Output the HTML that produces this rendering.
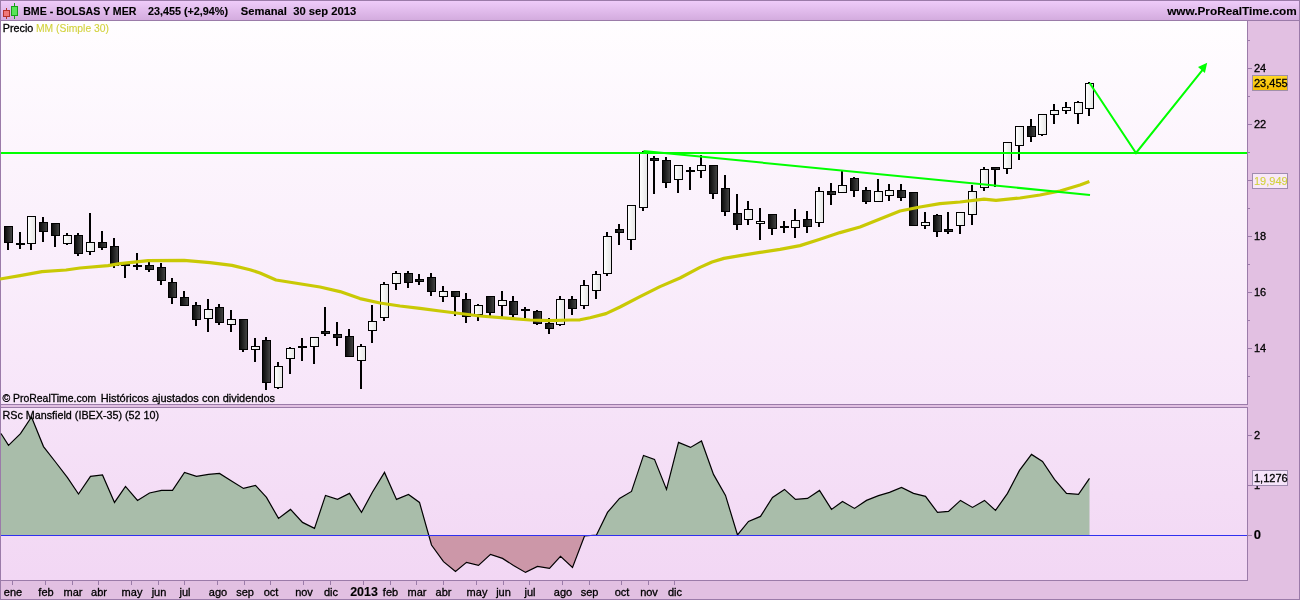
<!DOCTYPE html>
<html><head><meta charset="utf-8"><title>BME - BOLSAS Y MER</title>
<style>
html,body{margin:0;padding:0;background:#e2c0e2;}
body{width:1300px;height:600px;overflow:hidden;}
svg{display:block}
text{font-family:"Liberation Sans",Arial,sans-serif;font-size:11px;fill:#000;stroke:#000;stroke-width:.3px}
.b{font-weight:bold;stroke-width:.12px}
</style></head><body>
<svg width="1300" height="600" viewBox="0 0 1300 600">
<defs>
<linearGradient id="gh" x1="0" y1="0" x2="0" y2="1"><stop offset="0" stop-color="#f0cdfb"/><stop offset="1" stop-color="#d2aadd"/></linearGradient>
<linearGradient id="gm" x1="0" y1="0" x2="0" y2="1"><stop offset="0" stop-color="#fffdff"/><stop offset="1" stop-color="#f7e5f9"/></linearGradient>
<linearGradient id="gi" x1="0" y1="0" x2="0" y2="1"><stop offset="0" stop-color="#f6e3f8"/><stop offset="1" stop-color="#f2d7f4"/></linearGradient>
<linearGradient id="gb" x1="0" y1="0" x2="1" y2="0"><stop offset="0" stop-color="#0c0c0c"/><stop offset="1" stop-color="#424242"/></linearGradient>
<linearGradient id="gw" x1="0" y1="0" x2="1" y2="0"><stop offset="0" stop-color="#fff"/><stop offset="1" stop-color="#e6e6e6"/></linearGradient>
</defs>

<rect x="0" y="0" width="1300" height="600" fill="#e2c0e2"/>
<rect x="0" y="0" width="1300" height="21" fill="url(#gh)"/>
<rect x="1" y="21" width="1246" height="383" fill="url(#gm)"/>
<rect x="1" y="405" width="1246" height="2" fill="#e2c0e2"/>
<rect x="1" y="408" width="1246" height="172" fill="url(#gi)"/>
<g fill="#9b7ba9">
<rect x="0" y="0" width="1300" height="1"/>
<rect x="0" y="20" width="1300" height="1"/>
<rect x="0" y="0" width="1" height="600"/>
<rect x="1299" y="0" width="1" height="600"/>
<rect x="0" y="599" width="1300" height="1"/>
<rect x="1247" y="21" width="1" height="384"/>
<rect x="1247" y="407" width="1" height="174"/>
<rect x="0" y="404" width="1248" height="1"/>
<rect x="0" y="407" width="1248" height="1"/>
<rect x="0" y="580" width="1248" height="1"/>
<rect x="1248" y="40" width="2" height="1"/>
<rect x="1248" y="68" width="4" height="1"/>
<rect x="1248" y="96" width="2" height="1"/>
<rect x="1248" y="124" width="4" height="1"/>
<rect x="1248" y="152" width="2" height="1"/>
<rect x="1248" y="180" width="4" height="1"/>
<rect x="1248" y="208" width="2" height="1"/>
<rect x="1248" y="236" width="4" height="1"/>
<rect x="1248" y="264" width="2" height="1"/>
<rect x="1248" y="292" width="4" height="1"/>
<rect x="1248" y="320" width="2" height="1"/>
<rect x="1248" y="348" width="4" height="1"/>
<rect x="1248" y="376" width="2" height="1"/>
<rect x="1248" y="435" width="4" height="1"/>
<rect x="1248" y="485" width="4" height="1"/>
<rect x="1248" y="535" width="4" height="1"/>
<rect x="12" y="581" width="1" height="4"/>
<rect x="45" y="581" width="1" height="4"/>
<rect x="72" y="581" width="1" height="4"/>
<rect x="98" y="581" width="1" height="4"/>
<rect x="131" y="581" width="1" height="4"/>
<rect x="158" y="581" width="1" height="4"/>
<rect x="184" y="581" width="1" height="4"/>
<rect x="217" y="581" width="1" height="4"/>
<rect x="244" y="581" width="1" height="4"/>
<rect x="270" y="581" width="1" height="4"/>
<rect x="303" y="581" width="1" height="4"/>
<rect x="330" y="581" width="1" height="4"/>
<rect x="363" y="581" width="1" height="4"/>
<rect x="390" y="581" width="1" height="4"/>
<rect x="416" y="581" width="1" height="4"/>
<rect x="443" y="581" width="1" height="4"/>
<rect x="476" y="581" width="1" height="4"/>
<rect x="503" y="581" width="1" height="4"/>
<rect x="529" y="581" width="1" height="4"/>
<rect x="562" y="581" width="1" height="4"/>
<rect x="589" y="581" width="1" height="4"/>
<rect x="621" y="581" width="1" height="4"/>
<rect x="648" y="581" width="1" height="4"/>
<rect x="674" y="581" width="1" height="4"/>
</g>
<g><rect x="6" y="8" width="1" height="11" fill="#b4322a"/><rect x="3.5" y="10.5" width="6" height="6" fill="#f07878" stroke="#b4322a"/>
<rect x="14" y="3" width="1" height="16" fill="#18a018"/><rect x="11.5" y="6.5" width="6" height="9" fill="#58e458" stroke="#18a018"/></g>
<text x="23.2" y="15" class="b" textLength="113.2" lengthAdjust="spacingAndGlyphs">BME - BOLSAS Y MER</text>
<text x="148" y="15" class="b" textLength="80" lengthAdjust="spacingAndGlyphs">23,455 (+2,94%)</text>
<text x="240.8" y="15" class="b" textLength="46" lengthAdjust="spacingAndGlyphs">Semanal</text>
<text x="293.2" y="15" class="b" textLength="63" lengthAdjust="spacingAndGlyphs">30 sep 2013</text>
<text x="1167.2" y="15" class="b" textLength="129.6" lengthAdjust="spacingAndGlyphs" font-size="12">www.ProRealTime.com</text>
<text x="2.8" y="32" textLength="30.5" lengthAdjust="spacingAndGlyphs">Precio</text>
<text x="36" y="32" textLength="73" lengthAdjust="spacingAndGlyphs" style="fill:#d2d23c;stroke:#d2d23c;stroke-width:.1px">MM (Simple 30)</text>
<text x="2.4" y="402" textLength="93.8" lengthAdjust="spacingAndGlyphs">© ProRealTime.com</text>
<text x="100.7" y="402" textLength="174.4" lengthAdjust="spacingAndGlyphs">Históricos ajustados con dividendos</text>
<g shape-rendering="crispEdges">
<rect x="7" y="226" width="2" height="24" fill="#000"/>
<rect x="4" y="226" width="9" height="17" fill="#000"/>
<rect x="5" y="227" width="7" height="15" fill="url(#gb)"/>
<rect x="19" y="232" width="2" height="17" fill="#000"/>
<rect x="16" y="243" width="9" height="2" fill="#000"/>
<rect x="30" y="216" width="2" height="34" fill="#000"/>
<rect x="27" y="216" width="9" height="28" fill="#000"/>
<rect x="28" y="217" width="7" height="26" fill="url(#gw)"/>
<rect x="42" y="217" width="2" height="25" fill="#000"/>
<rect x="39" y="222" width="9" height="10" fill="#000"/>
<rect x="40" y="223" width="7" height="8" fill="url(#gb)"/>
<rect x="54" y="223" width="2" height="24" fill="#000"/>
<rect x="51" y="223" width="9" height="13" fill="#000"/>
<rect x="52" y="224" width="7" height="11" fill="url(#gb)"/>
<rect x="66" y="233" width="2" height="12" fill="#000"/>
<rect x="63" y="235" width="9" height="9" fill="#000"/>
<rect x="64" y="236" width="7" height="7" fill="url(#gw)"/>
<rect x="77" y="233" width="2" height="23" fill="#000"/>
<rect x="74" y="235" width="9" height="19" fill="#000"/>
<rect x="75" y="236" width="7" height="17" fill="url(#gb)"/>
<rect x="89" y="213" width="2" height="42" fill="#000"/>
<rect x="86" y="242" width="9" height="10" fill="#000"/>
<rect x="87" y="243" width="7" height="8" fill="url(#gw)"/>
<rect x="101" y="231" width="2" height="19" fill="#000"/>
<rect x="98" y="242" width="9" height="6" fill="#000"/>
<rect x="99" y="243" width="7" height="4" fill="url(#gb)"/>
<rect x="113" y="238" width="2" height="30" fill="#000"/>
<rect x="110" y="246" width="9" height="20" fill="#000"/>
<rect x="111" y="247" width="7" height="18" fill="url(#gb)"/>
<rect x="124" y="263" width="2" height="15" fill="#000"/>
<rect x="121" y="264" width="9" height="2" fill="#000"/>
<rect x="136" y="253" width="2" height="17" fill="#000"/>
<rect x="133" y="265" width="9" height="2" fill="#000"/>
<rect x="148" y="262" width="2" height="10" fill="#000"/>
<rect x="145" y="265" width="9" height="5" fill="#000"/>
<rect x="146" y="266" width="7" height="3" fill="url(#gb)"/>
<rect x="160" y="263" width="2" height="22" fill="#000"/>
<rect x="157" y="267" width="9" height="14" fill="#000"/>
<rect x="158" y="268" width="7" height="12" fill="url(#gb)"/>
<rect x="171" y="278" width="2" height="26" fill="#000"/>
<rect x="168" y="282" width="9" height="16" fill="#000"/>
<rect x="169" y="283" width="7" height="14" fill="url(#gb)"/>
<rect x="183" y="291" width="2" height="15" fill="#000"/>
<rect x="180" y="297" width="9" height="9" fill="#000"/>
<rect x="181" y="298" width="7" height="7" fill="url(#gb)"/>
<rect x="195" y="302" width="2" height="24" fill="#000"/>
<rect x="192" y="305" width="9" height="15" fill="#000"/>
<rect x="193" y="306" width="7" height="13" fill="url(#gb)"/>
<rect x="207" y="299" width="2" height="33" fill="#000"/>
<rect x="204" y="309" width="9" height="10" fill="#000"/>
<rect x="205" y="310" width="7" height="8" fill="url(#gw)"/>
<rect x="218" y="304" width="2" height="21" fill="#000"/>
<rect x="215" y="307" width="9" height="16" fill="#000"/>
<rect x="216" y="308" width="7" height="14" fill="url(#gb)"/>
<rect x="230" y="310" width="2" height="22" fill="#000"/>
<rect x="227" y="319" width="9" height="6" fill="#000"/>
<rect x="228" y="320" width="7" height="4" fill="url(#gw)"/>
<rect x="242" y="319" width="2" height="33" fill="#000"/>
<rect x="239" y="319" width="9" height="31" fill="#000"/>
<rect x="240" y="320" width="7" height="29" fill="url(#gb)"/>
<rect x="254" y="338" width="2" height="24" fill="#000"/>
<rect x="251" y="346" width="9" height="4" fill="#000"/>
<rect x="252" y="347" width="7" height="2" fill="url(#gw)"/>
<rect x="265" y="337" width="2" height="53" fill="#000"/>
<rect x="262" y="340" width="9" height="43" fill="#000"/>
<rect x="263" y="341" width="7" height="41" fill="url(#gb)"/>
<rect x="277" y="362" width="2" height="27" fill="#000"/>
<rect x="274" y="366" width="9" height="22" fill="#000"/>
<rect x="275" y="367" width="7" height="20" fill="url(#gw)"/>
<rect x="289" y="347" width="2" height="27" fill="#000"/>
<rect x="286" y="348" width="9" height="11" fill="#000"/>
<rect x="287" y="349" width="7" height="9" fill="url(#gw)"/>
<rect x="301" y="338" width="2" height="23" fill="#000"/>
<rect x="298" y="346" width="9" height="2" fill="#000"/>
<rect x="313" y="337" width="2" height="27" fill="#000"/>
<rect x="310" y="337" width="9" height="10" fill="#000"/>
<rect x="311" y="338" width="7" height="8" fill="url(#gw)"/>
<rect x="324" y="307" width="2" height="29" fill="#000"/>
<rect x="321" y="331" width="9" height="3" fill="#000"/>
<rect x="322" y="332" width="7" height="1" fill="url(#gb)"/>
<rect x="336" y="322" width="2" height="24" fill="#000"/>
<rect x="333" y="334" width="9" height="4" fill="#000"/>
<rect x="334" y="335" width="7" height="2" fill="url(#gb)"/>
<rect x="348" y="329" width="2" height="28" fill="#000"/>
<rect x="345" y="336" width="9" height="21" fill="#000"/>
<rect x="346" y="337" width="7" height="19" fill="url(#gb)"/>
<rect x="360" y="344" width="2" height="45" fill="#000"/>
<rect x="357" y="346" width="9" height="15" fill="#000"/>
<rect x="358" y="347" width="7" height="13" fill="url(#gw)"/>
<rect x="371" y="305" width="2" height="38" fill="#000"/>
<rect x="368" y="321" width="9" height="10" fill="#000"/>
<rect x="369" y="322" width="7" height="8" fill="url(#gw)"/>
<rect x="383" y="282" width="2" height="39" fill="#000"/>
<rect x="380" y="284" width="9" height="34" fill="#000"/>
<rect x="381" y="285" width="7" height="32" fill="url(#gw)"/>
<rect x="395" y="271" width="2" height="19" fill="#000"/>
<rect x="392" y="273" width="9" height="11" fill="#000"/>
<rect x="393" y="274" width="7" height="9" fill="url(#gw)"/>
<rect x="407" y="271" width="2" height="17" fill="#000"/>
<rect x="404" y="273" width="9" height="10" fill="#000"/>
<rect x="405" y="274" width="7" height="8" fill="url(#gb)"/>
<rect x="418" y="274" width="2" height="11" fill="#000"/>
<rect x="415" y="279" width="9" height="3" fill="#000"/>
<rect x="416" y="280" width="7" height="1" fill="url(#gb)"/>
<rect x="430" y="273" width="2" height="23" fill="#000"/>
<rect x="427" y="277" width="9" height="15" fill="#000"/>
<rect x="428" y="278" width="7" height="13" fill="url(#gb)"/>
<rect x="442" y="286" width="2" height="16" fill="#000"/>
<rect x="439" y="291" width="9" height="6" fill="#000"/>
<rect x="440" y="292" width="7" height="4" fill="url(#gw)"/>
<rect x="454" y="291" width="2" height="25" fill="#000"/>
<rect x="451" y="291" width="9" height="6" fill="#000"/>
<rect x="452" y="292" width="7" height="4" fill="url(#gb)"/>
<rect x="465" y="293" width="2" height="30" fill="#000"/>
<rect x="462" y="299" width="9" height="18" fill="#000"/>
<rect x="463" y="300" width="7" height="16" fill="url(#gb)"/>
<rect x="477" y="304" width="2" height="17" fill="#000"/>
<rect x="474" y="305" width="9" height="10" fill="#000"/>
<rect x="475" y="306" width="7" height="8" fill="url(#gw)"/>
<rect x="489" y="296" width="2" height="20" fill="#000"/>
<rect x="486" y="296" width="9" height="17" fill="#000"/>
<rect x="487" y="297" width="7" height="15" fill="url(#gb)"/>
<rect x="501" y="291" width="2" height="26" fill="#000"/>
<rect x="498" y="300" width="9" height="6" fill="#000"/>
<rect x="499" y="301" width="7" height="4" fill="url(#gw)"/>
<rect x="512" y="296" width="2" height="22" fill="#000"/>
<rect x="509" y="301" width="9" height="14" fill="#000"/>
<rect x="510" y="302" width="7" height="12" fill="url(#gb)"/>
<rect x="524" y="307" width="2" height="11" fill="#000"/>
<rect x="521" y="309" width="9" height="2" fill="#000"/>
<rect x="536" y="310" width="2" height="15" fill="#000"/>
<rect x="533" y="311" width="9" height="13" fill="#000"/>
<rect x="534" y="312" width="7" height="11" fill="url(#gb)"/>
<rect x="548" y="318" width="2" height="16" fill="#000"/>
<rect x="545" y="323" width="9" height="6" fill="#000"/>
<rect x="546" y="324" width="7" height="4" fill="url(#gb)"/>
<rect x="559" y="296" width="2" height="30" fill="#000"/>
<rect x="556" y="299" width="9" height="26" fill="#000"/>
<rect x="557" y="300" width="7" height="24" fill="url(#gw)"/>
<rect x="571" y="296" width="2" height="19" fill="#000"/>
<rect x="568" y="299" width="9" height="10" fill="#000"/>
<rect x="569" y="300" width="7" height="8" fill="url(#gb)"/>
<rect x="583" y="280" width="2" height="29" fill="#000"/>
<rect x="580" y="285" width="9" height="21" fill="#000"/>
<rect x="581" y="286" width="7" height="19" fill="url(#gw)"/>
<rect x="595" y="271" width="2" height="28" fill="#000"/>
<rect x="592" y="274" width="9" height="17" fill="#000"/>
<rect x="593" y="275" width="7" height="15" fill="url(#gw)"/>
<rect x="606" y="232" width="2" height="44" fill="#000"/>
<rect x="603" y="236" width="9" height="38" fill="#000"/>
<rect x="604" y="237" width="7" height="36" fill="url(#gw)"/>
<rect x="618" y="224" width="2" height="21" fill="#000"/>
<rect x="615" y="229" width="9" height="4" fill="#000"/>
<rect x="616" y="230" width="7" height="2" fill="url(#gb)"/>
<rect x="630" y="205" width="2" height="45" fill="#000"/>
<rect x="627" y="205" width="9" height="35" fill="#000"/>
<rect x="628" y="206" width="7" height="33" fill="url(#gw)"/>
<rect x="642" y="151" width="2" height="60" fill="#000"/>
<rect x="639" y="152" width="9" height="56" fill="#000"/>
<rect x="640" y="153" width="7" height="54" fill="url(#gw)"/>
<rect x="653" y="156" width="2" height="38" fill="#000"/>
<rect x="650" y="158" width="9" height="3" fill="#000"/>
<rect x="651" y="159" width="7" height="1" fill="url(#gb)"/>
<rect x="665" y="157" width="2" height="31" fill="#000"/>
<rect x="662" y="160" width="9" height="23" fill="#000"/>
<rect x="663" y="161" width="7" height="21" fill="url(#gb)"/>
<rect x="677" y="165" width="2" height="28" fill="#000"/>
<rect x="674" y="165" width="9" height="15" fill="#000"/>
<rect x="675" y="166" width="7" height="13" fill="url(#gw)"/>
<rect x="689" y="167" width="2" height="23" fill="#000"/>
<rect x="686" y="170" width="9" height="2" fill="#000"/>
<rect x="700" y="155" width="2" height="23" fill="#000"/>
<rect x="697" y="165" width="9" height="6" fill="#000"/>
<rect x="698" y="166" width="7" height="4" fill="url(#gw)"/>
<rect x="712" y="165" width="2" height="34" fill="#000"/>
<rect x="709" y="165" width="9" height="29" fill="#000"/>
<rect x="710" y="166" width="7" height="27" fill="url(#gb)"/>
<rect x="724" y="175" width="2" height="41" fill="#000"/>
<rect x="721" y="188" width="9" height="24" fill="#000"/>
<rect x="722" y="189" width="7" height="22" fill="url(#gb)"/>
<rect x="736" y="194" width="2" height="36" fill="#000"/>
<rect x="733" y="213" width="9" height="12" fill="#000"/>
<rect x="734" y="214" width="7" height="10" fill="url(#gb)"/>
<rect x="747" y="201" width="2" height="24" fill="#000"/>
<rect x="744" y="209" width="9" height="11" fill="#000"/>
<rect x="745" y="210" width="7" height="9" fill="url(#gw)"/>
<rect x="759" y="208" width="2" height="32" fill="#000"/>
<rect x="756" y="221" width="9" height="3" fill="#000"/>
<rect x="757" y="222" width="7" height="1" fill="url(#gw)"/>
<rect x="771" y="214" width="2" height="21" fill="#000"/>
<rect x="768" y="214" width="9" height="15" fill="#000"/>
<rect x="769" y="215" width="7" height="13" fill="url(#gb)"/>
<rect x="783" y="221" width="2" height="12" fill="#000"/>
<rect x="780" y="226" width="9" height="2" fill="#000"/>
<rect x="794" y="209" width="2" height="29" fill="#000"/>
<rect x="791" y="220" width="9" height="8" fill="#000"/>
<rect x="792" y="221" width="7" height="6" fill="url(#gw)"/>
<rect x="806" y="211" width="2" height="22" fill="#000"/>
<rect x="803" y="219" width="9" height="8" fill="#000"/>
<rect x="804" y="220" width="7" height="6" fill="url(#gb)"/>
<rect x="818" y="187" width="2" height="40" fill="#000"/>
<rect x="815" y="191" width="9" height="32" fill="#000"/>
<rect x="816" y="192" width="7" height="30" fill="url(#gw)"/>
<rect x="830" y="183" width="2" height="22" fill="#000"/>
<rect x="827" y="191" width="9" height="4" fill="#000"/>
<rect x="828" y="192" width="7" height="2" fill="url(#gb)"/>
<rect x="841" y="171" width="2" height="22" fill="#000"/>
<rect x="838" y="185" width="9" height="8" fill="#000"/>
<rect x="839" y="186" width="7" height="6" fill="url(#gw)"/>
<rect x="853" y="177" width="2" height="20" fill="#000"/>
<rect x="850" y="178" width="9" height="13" fill="#000"/>
<rect x="851" y="179" width="7" height="11" fill="url(#gb)"/>
<rect x="865" y="187" width="2" height="17" fill="#000"/>
<rect x="862" y="190" width="9" height="12" fill="#000"/>
<rect x="863" y="191" width="7" height="10" fill="url(#gb)"/>
<rect x="877" y="179" width="2" height="23" fill="#000"/>
<rect x="874" y="191" width="9" height="11" fill="#000"/>
<rect x="875" y="192" width="7" height="9" fill="url(#gw)"/>
<rect x="888" y="184" width="2" height="17" fill="#000"/>
<rect x="885" y="190" width="9" height="6" fill="#000"/>
<rect x="886" y="191" width="7" height="4" fill="url(#gw)"/>
<rect x="900" y="184" width="2" height="17" fill="#000"/>
<rect x="897" y="190" width="9" height="8" fill="#000"/>
<rect x="898" y="191" width="7" height="6" fill="url(#gb)"/>
<rect x="912" y="192" width="2" height="34" fill="#000"/>
<rect x="909" y="192" width="9" height="34" fill="#000"/>
<rect x="910" y="193" width="7" height="32" fill="url(#gb)"/>
<rect x="924" y="212" width="2" height="17" fill="#000"/>
<rect x="921" y="222" width="9" height="4" fill="#000"/>
<rect x="922" y="223" width="7" height="2" fill="url(#gw)"/>
<rect x="936" y="214" width="2" height="23" fill="#000"/>
<rect x="933" y="215" width="9" height="17" fill="#000"/>
<rect x="934" y="216" width="7" height="15" fill="url(#gb)"/>
<rect x="947" y="212" width="2" height="22" fill="#000"/>
<rect x="944" y="229" width="9" height="3" fill="#000"/>
<rect x="945" y="230" width="7" height="1" fill="url(#gb)"/>
<rect x="959" y="212" width="2" height="22" fill="#000"/>
<rect x="956" y="212" width="9" height="14" fill="#000"/>
<rect x="957" y="213" width="7" height="12" fill="url(#gw)"/>
<rect x="971" y="185" width="2" height="40" fill="#000"/>
<rect x="968" y="191" width="9" height="24" fill="#000"/>
<rect x="969" y="192" width="7" height="22" fill="url(#gw)"/>
<rect x="983" y="167" width="2" height="24" fill="#000"/>
<rect x="980" y="169" width="9" height="19" fill="#000"/>
<rect x="981" y="170" width="7" height="17" fill="url(#gw)"/>
<rect x="994" y="167" width="2" height="20" fill="#000"/>
<rect x="991" y="167" width="9" height="3" fill="#000"/>
<rect x="992" y="168" width="7" height="1" fill="url(#gb)"/>
<rect x="1006" y="142" width="2" height="32" fill="#000"/>
<rect x="1003" y="142" width="9" height="27" fill="#000"/>
<rect x="1004" y="143" width="7" height="25" fill="url(#gw)"/>
<rect x="1018" y="126" width="2" height="34" fill="#000"/>
<rect x="1015" y="126" width="9" height="20" fill="#000"/>
<rect x="1016" y="127" width="7" height="18" fill="url(#gw)"/>
<rect x="1030" y="119" width="2" height="23" fill="#000"/>
<rect x="1027" y="126" width="9" height="11" fill="#000"/>
<rect x="1028" y="127" width="7" height="9" fill="url(#gb)"/>
<rect x="1041" y="114" width="2" height="22" fill="#000"/>
<rect x="1038" y="114" width="9" height="21" fill="#000"/>
<rect x="1039" y="115" width="7" height="19" fill="url(#gw)"/>
<rect x="1053" y="104" width="2" height="20" fill="#000"/>
<rect x="1050" y="110" width="9" height="5" fill="#000"/>
<rect x="1051" y="111" width="7" height="3" fill="url(#gw)"/>
<rect x="1065" y="102" width="2" height="12" fill="#000"/>
<rect x="1062" y="107" width="9" height="4" fill="#000"/>
<rect x="1063" y="108" width="7" height="2" fill="url(#gw)"/>
<rect x="1077" y="101" width="2" height="23" fill="#000"/>
<rect x="1074" y="102" width="9" height="12" fill="#000"/>
<rect x="1075" y="103" width="7" height="10" fill="url(#gw)"/>
<rect x="1088" y="82" width="2" height="34" fill="#000"/>
<rect x="1085" y="83" width="9" height="26" fill="#000"/>
<rect x="1086" y="84" width="7" height="24" fill="url(#gw)"/>
</g>
<polyline points="0,279 20,275.6 42,271.6 66,270 80,268 108,265.6 120,263.7 148,260.6 184,260.4 210,262.6 232,265.4 250,269.7 260,273 276,280 320,287 340,291.6 360,298.6 380,303 400,306 420,308.4 440,311 456,313 480,316 510,318.4 530,320 550,320.6 570,320 580,319.8 590,317.8 606,313.6 620,307 640,296.6 660,286.6 680,278 700,267.4 712,262 724,258.4 740,255.6 760,252.4 780,249.4 800,245.6 820,239.3 840,232.6 860,227 880,219 900,211 920,207 940,203.6 960,202 984,199.2 996,200.4 1020,198 1040,195 1060,191 1080,185 1089.4,181.5" fill="none" stroke="#c9c905" stroke-width="3.2" stroke-linejoin="round"/>
<rect x="1" y="152" width="1246" height="2" fill="#00ff00"/>
<line x1="643.5" y1="151" x2="1090" y2="194.9" stroke="#00ff00" stroke-width="2"/>
<polyline points="1089.6,83 1136,153 1204,68.2" fill="none" stroke="#00ff00" stroke-width="2"/>
<polygon points="1207.2,62.8 1198,67 1204.9,73" fill="#00ff00"/>
<text x="1254" y="71.6">24</text>
<text x="1254" y="127.6">22</text>
<text x="1254" y="239.6">18</text>
<text x="1254" y="295.6">16</text>
<text x="1254" y="351.6">14</text>
<linearGradient id="gy" x1="0" y1="0" x2="0" y2="1"><stop offset="0" stop-color="#ffd726"/><stop offset="1" stop-color="#f6bd00"/></linearGradient>
<rect x="1252.5" y="75.5" width="35" height="15" fill="url(#gy)" stroke="#a090a8"/>
<text x="1254" y="86.6">23,455</text>
<rect x="1252.5" y="173.5" width="35" height="15" fill="#f8e8f8" stroke="#a08cb0"/>
<text x="1254" y="184.6" style="fill:#d2d23c;stroke:#d2d23c;stroke-width:.1px">19,949</text>
<text x="2.5" y="418.5" textLength="156.6" lengthAdjust="spacingAndGlyphs">RSc Mansfield (IBEX-35) (52 10)</text>
<clipPath id="cp"><rect x="1" y="408" width="1246" height="127.5"/></clipPath>
<clipPath id="cn"><rect x="1" y="535.5" width="1246" height="44.5"/></clipPath>
<polygon points="1,535.5 1.00,433.5 8.50,445.4 20.50,433.6 31.50,417 43.50,446.6 55.50,462 67.50,477.6 78.50,494 90.50,476.4 102.50,475 114.50,502.4 125.50,486.4 137.50,500.4 149.50,493 161.50,490.4 172.50,490.4 184.50,472.4 196.50,476.4 208.50,474.4 219.50,473.4 231.50,481 243.50,488.4 255.50,485.4 266.50,497.4 278.50,518.4 290.50,509.4 302.50,522.4 314.50,528.4 325.50,495.4 337.50,499.4 349.50,493.4 361.50,512.4 372.50,492 384.50,472.4 396.50,499.4 408.50,494.4 419.50,502.4 431.50,545 443.50,561.6 455.50,571.4 466.50,562.4 478.50,565.4 490.50,554.4 502.50,558.4 513.50,565.4 525.50,572.4 537.50,566.4 549.50,568.4 560.50,556.4 572.50,567.4 584.50,536 596.50,535 607.50,512.4 619.50,498.4 631.50,491.4 643.50,455.4 654.50,459.4 666.50,489.4 678.50,442.4 690.50,447.4 701.50,441 713.50,474.4 725.50,495.4 737.50,535 748.50,521.4 760.50,516.4 772.50,497.4 784.50,489.4 795.50,499.4 807.50,498.4 819.50,490.4 831.50,509.4 842.50,501.4 854.50,508.4 866.50,500.4 878.50,495.6 889.50,492.4 901.50,487.4 913.50,493.4 925.50,496.4 937.50,512.4 948.50,511.4 960.50,500.4 972.50,507.4 984.50,500.4 995.50,510.4 1007.50,493.4 1019.50,470.4 1031.50,454.4 1042.50,461.4 1054.50,479.4 1066.50,493.4 1078.50,494.4 1089.50,478.4 1089.50,535.5" fill="#a9bdaa" clip-path="url(#cp)"/>
<polygon points="1,535.5 1.00,433.5 8.50,445.4 20.50,433.6 31.50,417 43.50,446.6 55.50,462 67.50,477.6 78.50,494 90.50,476.4 102.50,475 114.50,502.4 125.50,486.4 137.50,500.4 149.50,493 161.50,490.4 172.50,490.4 184.50,472.4 196.50,476.4 208.50,474.4 219.50,473.4 231.50,481 243.50,488.4 255.50,485.4 266.50,497.4 278.50,518.4 290.50,509.4 302.50,522.4 314.50,528.4 325.50,495.4 337.50,499.4 349.50,493.4 361.50,512.4 372.50,492 384.50,472.4 396.50,499.4 408.50,494.4 419.50,502.4 431.50,545 443.50,561.6 455.50,571.4 466.50,562.4 478.50,565.4 490.50,554.4 502.50,558.4 513.50,565.4 525.50,572.4 537.50,566.4 549.50,568.4 560.50,556.4 572.50,567.4 584.50,536 596.50,535 607.50,512.4 619.50,498.4 631.50,491.4 643.50,455.4 654.50,459.4 666.50,489.4 678.50,442.4 690.50,447.4 701.50,441 713.50,474.4 725.50,495.4 737.50,535 748.50,521.4 760.50,516.4 772.50,497.4 784.50,489.4 795.50,499.4 807.50,498.4 819.50,490.4 831.50,509.4 842.50,501.4 854.50,508.4 866.50,500.4 878.50,495.6 889.50,492.4 901.50,487.4 913.50,493.4 925.50,496.4 937.50,512.4 948.50,511.4 960.50,500.4 972.50,507.4 984.50,500.4 995.50,510.4 1007.50,493.4 1019.50,470.4 1031.50,454.4 1042.50,461.4 1054.50,479.4 1066.50,493.4 1078.50,494.4 1089.50,478.4 1089.50,535.5" fill="#cc97a8" clip-path="url(#cn)"/>
<polyline points="1.00,433.5 8.50,445.4 20.50,433.6 31.50,417 43.50,446.6 55.50,462 67.50,477.6 78.50,494 90.50,476.4 102.50,475 114.50,502.4 125.50,486.4 137.50,500.4 149.50,493 161.50,490.4 172.50,490.4 184.50,472.4 196.50,476.4 208.50,474.4 219.50,473.4 231.50,481 243.50,488.4 255.50,485.4 266.50,497.4 278.50,518.4 290.50,509.4 302.50,522.4 314.50,528.4 325.50,495.4 337.50,499.4 349.50,493.4 361.50,512.4 372.50,492 384.50,472.4 396.50,499.4 408.50,494.4 419.50,502.4 431.50,545 443.50,561.6 455.50,571.4 466.50,562.4 478.50,565.4 490.50,554.4 502.50,558.4 513.50,565.4 525.50,572.4 537.50,566.4 549.50,568.4 560.50,556.4 572.50,567.4 584.50,536 596.50,535 607.50,512.4 619.50,498.4 631.50,491.4 643.50,455.4 654.50,459.4 666.50,489.4 678.50,442.4 690.50,447.4 701.50,441 713.50,474.4 725.50,495.4 737.50,535 748.50,521.4 760.50,516.4 772.50,497.4 784.50,489.4 795.50,499.4 807.50,498.4 819.50,490.4 831.50,509.4 842.50,501.4 854.50,508.4 866.50,500.4 878.50,495.6 889.50,492.4 901.50,487.4 913.50,493.4 925.50,496.4 937.50,512.4 948.50,511.4 960.50,500.4 972.50,507.4 984.50,500.4 995.50,510.4 1007.50,493.4 1019.50,470.4 1031.50,454.4 1042.50,461.4 1054.50,479.4 1066.50,493.4 1078.50,494.4 1089.50,478.4" fill="none" stroke="#000" stroke-width="1.2"/>
<rect x="1" y="535" width="1246" height="1" fill="#3030f0"/>
<text x="1254" y="438.6">2</text>
<text x="1254" y="488.6">1</text>
<text class="b" x="1253.8" y="539.2" style="font-size:13px">0</text>
<rect x="1252.5" y="470.5" width="35" height="15" fill="#f6e4fa" stroke="#a08cb0"/>
<text x="1254" y="481.6">1,1276</text>
<text x="13.0" y="595.6" text-anchor="middle">ene</text>
<text x="46.0" y="595.6" text-anchor="middle">feb</text>
<text x="73.0" y="595.6" text-anchor="middle">mar</text>
<text x="99.0" y="595.6" text-anchor="middle">abr</text>
<text x="132.0" y="595.6" text-anchor="middle">may</text>
<text x="159.0" y="595.6" text-anchor="middle">jun</text>
<text x="185.0" y="595.6" text-anchor="middle">jul</text>
<text x="218.0" y="595.6" text-anchor="middle">ago</text>
<text x="245.0" y="595.6" text-anchor="middle">sep</text>
<text x="271.0" y="595.6" text-anchor="middle">oct</text>
<text x="304.0" y="595.6" text-anchor="middle">nov</text>
<text x="331.0" y="595.6" text-anchor="middle">dic</text>
<text class="b" x="364.0" y="596" text-anchor="middle" style="font-size:13px" textLength="27.6" lengthAdjust="spacingAndGlyphs">2013</text>
<text x="390.5" y="595.6" text-anchor="middle">feb</text>
<text x="417.0" y="595.6" text-anchor="middle">mar</text>
<text x="443.5" y="595.6" text-anchor="middle">abr</text>
<text x="477.0" y="595.6" text-anchor="middle">may</text>
<text x="503.5" y="595.6" text-anchor="middle">jun</text>
<text x="530.0" y="595.6" text-anchor="middle">jul</text>
<text x="563.0" y="595.6" text-anchor="middle">ago</text>
<text x="589.5" y="595.6" text-anchor="middle">sep</text>
<text x="622.0" y="595.6" text-anchor="middle">oct</text>
<text x="649.0" y="595.6" text-anchor="middle">nov</text>
<text x="675.0" y="595.6" text-anchor="middle">dic</text>
</svg></body></html>
